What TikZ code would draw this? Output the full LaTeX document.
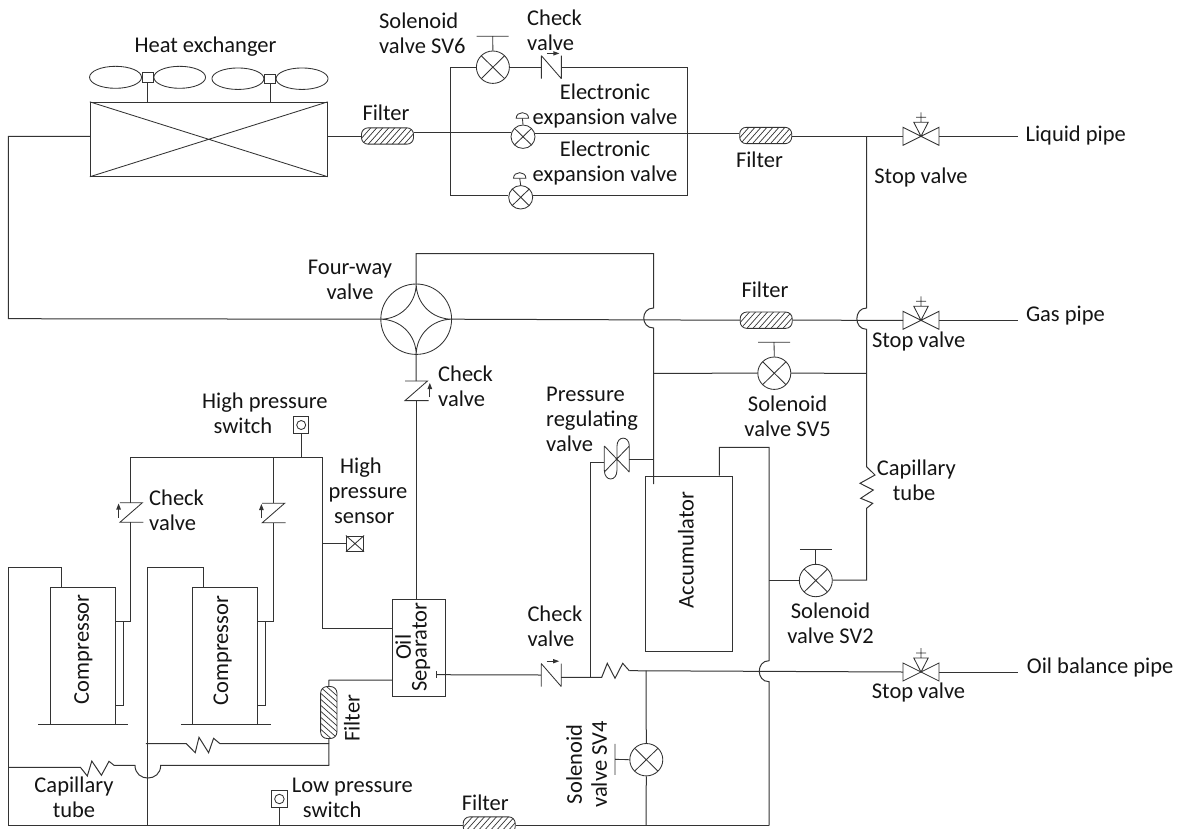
\documentclass[tikz,border=0pt]{standalone}
\usepackage{fontspec}
\setmainfont{Carlito}
\usetikzlibrary{shapes.geometric}
\definecolor{ln}{HTML}{333333}
\definecolor{tx}{HTML}{141414}
\tikzset{
  pipe/.style={draw=ln,line width=1pt,line join=miter},
  thin1/.style={draw=ln,line width=.85pt},
  lbl/.style={font=\fontsize{22.5}{25}\selectfont,text=tx,inner sep=0pt,align=center},
  lbll/.style={lbl,align=left,anchor=west},
  solv/.style={ellipse,thin1,fill=white,inner sep=0pt,minimum width=33pt,minimum height=32.4pt,
    path picture={\draw[thin1] (path picture bounding box.north west)--(path picture bounding box.south east)
      (path picture bounding box.north east)--(path picture bounding box.south west);}},
  eevv/.style={solv,minimum width=24pt,minimum height=23.4pt},
  filt/.style={rectangle,rounded corners=6.5pt,thin1,fill=white,inner sep=0pt,minimum width=52pt,minimum height=16.3pt,
    path picture={\foreach \i in {-36,-30,...,36}{\draw[line width=.7pt,ln] (path picture bounding box.center) ++(\i-8,9) -- ++(16,-18);}}},
  box1/.style={rectangle,thin1,inner sep=0pt},
  stopv/.pic={
    \draw[thin1] (0,0)--(-18,-9)--(-18,9)--cycle (0,0)--(18,-9)--(18,9)--cycle
      (0,0)--(-7.2,-14)--(7.2,-14)--cycle (0,-14)--(0,-24) (-5,-19)--(5,-19);
    \coordinate (-l) at (-18,0); \coordinate (-r) at (18,0);},
  chkh/.pic={
    \draw[thin1] (-10,-11.5)--(-10,11.5) (10,-11.5)--(10,11.5) (-10,-11.5)--(10,11.5);
    \draw[ln,line width=1.3pt] (-4.5,-13.8)--(3,-13.8);
    \fill[ln] (2,-16)--(8,-13.8)--(2,-11.6)--cycle;
    \coordinate (-l) at (-10,0); \coordinate (-r) at (10,0);},
  chkv/.pic={
    \draw[thin1] (-11,-9.8)--(11.5,-9.8)--(-11,9.8)--(12.5,9.8);
    \coordinate (-t) at (0,-9.8); \coordinate (-b) at (0,9.8);},
  uparr/.pic={
    \draw[ln,line width=1.3pt] (0,7)--(0,-2);
    \fill[ln] (-2.4,-1)--(0,-7)--(2.4,-1)--cycle;},
  dome/.pic={\draw[thin1] (-6.2,0) .. controls (-6.2,-7.5) and (6.2,-7.5) .. (6.2,0) -- cycle;},
}
\begin{document}
\begin{tikzpicture}[x=1pt,y=-1pt]
\useasboundingbox (0,0) rectangle (1179,828);
\clip (0,0) rectangle (1179,828);
% heat exchanger
\node[box1,minimum width=236.9pt,minimum height=74pt] (hx) at (208.75,139.3) {};
\draw[thin1] (hx.north west)--(hx.south east) (hx.north east)--(hx.south west);
\node[box1,minimum width=10.6pt,minimum height=9.3pt] (hub1) at (147.7,77.3) {};
\node[box1,minimum width=10.4pt,minimum height=8.7pt] (hub2) at (270,78.7) {};
\node[ellipse,thin1,inner sep=0pt,minimum width=52pt,minimum height=22pt,anchor=east] (b1) at (hub1.west) {};
\node[ellipse,thin1,inner sep=0pt,minimum width=51.7pt,minimum height=22pt,anchor=west] (b2) at (hub1.east) {};
\node[ellipse,thin1,inner sep=0pt,minimum width=52pt,minimum height=21.5pt,anchor=east] (b3) at (hub2.west) {};
\node[ellipse,thin1,inner sep=0pt,minimum width=52pt,minimum height=21.5pt,anchor=west] (b4) at (hub2.east) {};
\draw[thin1] (hub1.south)--(hub1.south|-hx.north) (hub2.south)--(hub2.south|-hx.north);
\node[lbl] (thx) at (205.5,47) {Heat exchanger};
% four-way valve
\node[ellipse,thin1,inner sep=0pt,minimum width=70.8pt,minimum height=70.4pt] (fw) at (416.2,319.2) {};
\draw[thin1] (fw.west) .. controls +(20,0) and +(0,20) .. (fw.north) .. controls +(0,20) and +(-20,0) .. (fw.east)
  .. controls +(-20,0) and +(0,-20) .. (fw.south) .. controls +(0,-20) and +(20,0) .. (fw.west);
% valves
\node[solv] (sv6) at (492.9,67.2) {};
\node[solv] (sv5) at (774.3,373.2) {};
\node[solv] (sv2) at (815.8,580.5) {};
\node[solv] (sv4) at (646.3,759.7) {};
\node[eevv] (eev1) at (523,136.7) {};
\node[eevv] (eev2) at (520.7,197.3) {};
\coordinate (t6) at (492.7,36.3);
\coordinate (t5) at (774,342.3);
\coordinate (t2) at (815.8,549.3);
\coordinate (t4) at (615,759.3);
\draw[thin1] (sv6.north)--(t6) ([xshift=-16pt]t6)--([xshift=16pt]t6);
\draw[thin1] (sv5.north)--(t5) ([xshift=-16pt]t5)--([xshift=16pt]t5);
\draw[thin1] (sv2.north)--(t2) ([xshift=-16pt]t2)--([xshift=16pt]t2);
\draw[thin1] (sv4.west)--(t4) ([yshift=-15.5pt]t4)--([yshift=15.5pt]t4);
\coordinate (d1) at (522.4,118.3);
\coordinate (d2) at (519.7,178.3);
\draw[thin1] (eev1.north)--(d1) (eev2.north)--(d2);
\pic at (d1) {dome};
\pic at (d2) {dome};
% check valves
\pic (c1) at (551.4,67.2) {chkh};
\pic (c6) at (551.2,675) {chkh};
\pic (c2) at (416,390.8) {chkv};
\pic at (429.8,390) {uparr};
\pic (c3) at (130.9,512.5) {chkv};
\pic at (118.6,510.5) {uparr};
\pic (c4) at (273.2,513) {chkv};
\pic at (261.4,511) {uparr};
% filters
\node[filt] (f1) at (387.5,136) {};
\node[filt] (f2) at (765.7,135.5) {};
\node[filt] (f3) at (766.2,320.2) {};
\node[filt] (f4) at (489.2,825) {};
\node[filt,rotate=90] (f5) at (328.8,712.5) {};
% stop valves
\pic (v1) at (921,136.3) {stopv};
\pic (v2) at (921,320.3) {stopv};
\pic (v3) at (921,672) {stopv};
% compressors etc.
\node[box1,minimum width=65.1pt,minimum height=136.3pt] (cp1) at (82.65,655.85) {};
\node[box1,minimum width=65.1pt,minimum height=136.3pt] (cp2) at (225.05,655.85) {};
\coordinate (bs1) at (83.2,724); \coordinate (bs2) at (225.8,724);
\draw[pipe] ([xshift=-45pt]bs1)--([xshift=45pt]bs1) ([xshift=-45pt]bs2)--([xshift=45pt]bs2);
\node[box1,minimum width=52.7pt,minimum height=97pt] (sep) at (418.65,647.5) {};
\node[box1,minimum width=87pt,minimum height=175.7pt] (acc) at (689.2,563.85) {};
% pipes: left and top
\coordinate (p1) at (8.4,136.3); \coordinate (p2) at (8.4,318.7);
\draw[pipe] (hx.west|-p1)--(p1)--(p2)--(fw.west);
\draw[pipe] (hx.east|-f1)--(f1.west);
\coordinate (q1) at (450,67.2); \coordinate (q2) at (450,195.7);
\coordinate (q3) at (687.5,67.2); \coordinate (q4) at (687.5,195.7);
\coordinate (q5) at (450,132);
\draw[pipe] (f1.east|-q5)--(eev1.west|-q5);
\draw[pipe] (sv6.west)--(q1)--(q2)--(eev2.west|-q2);
\draw[pipe] (sv6.east)--(c1-l);
\draw[pipe] (c1-r)--(q3)--(q4)--(eev2.east|-q4);
\coordinate (q6) at (600,133.7);
\draw[pipe] (eev1.east|-q6)--(f2.west|-q6);
\coordinate (r0) at (866.6,136.3);
\draw[pipe] (f2.east|-r0)--(r0)--(v1-l);
\coordinate (e1) at (1018.4,136.3);
\draw[pipe] (v1-r)--(e1);
\coordinate (r1) at (866.6,308); \coordinate (r2) at (866.6,329.3);
\coordinate (r3) at (866.6,466.7); \coordinate (r4) at (866.6,508.3); \coordinate (r5) at (866.6,580);
\coordinate (r6) at (866.6,373.3);
\draw[pipe] (r0)--(r1) .. controls +(-13,0) and +(-13,0) .. (r2)--(r3)
  --(875,475)--(860,483.3)--(873.3,490)--(860.7,498.3)--(872.7,503.3)--(r4)--(r5)--(sv2.east|-r5);
\draw[pipe] (sv5.east)--(r6);
% four-way connections
\coordinate (s1) at (416,253.7); \coordinate (s2) at (653.5,253.7);
\coordinate (s3) at (653.5,308); \coordinate (s4) at (653.5,328);
\coordinate (s5) at (653.5,484); \coordinate (s6) at (653.5,373.3); \coordinate (s7) at (653.5,459);
\draw[pipe] (fw.north)--(s1)--(s2)--(s3) .. controls +(-13,0) and +(-13,0) .. (s4)--(s5);
\draw[pipe] (s6)--(sv5.west);
\draw[pipe] (fw.east)--(f3.west);
\draw[pipe] (f3.east)--(v2-l);
\coordinate (e2) at (1018.4,320.3);
\draw[pipe] (v2-r)--(e2);
\draw[pipe] (fw.south)--(c2-t);
\draw[pipe] (c2-b)--(c2-b|-sep.north);
% pressure regulating valve
\coordinate (pv) at (617,459);
\coordinate (pl) at (604.3,462.3); \coordinate (pr) at (629.3,459);
\draw[thin1] (604.3,446)--(629.3,472) (604.3,472)--(629.3,446)
  (604.3,446)--(604.3,470) .. controls (604.3,482) and (617,482) .. (617,470)--(617,446)
  .. controls (617,435.5) and (629.3,435.5) .. (629.3,446)--(629.3,472);
\coordinate (u1) at (590,462.3); \coordinate (u2) at (590,677.3);
\draw[pipe] (pr)--(s7);
\draw[pipe] (pl)--(u1)--(u2);
% separator out
\coordinate (u0) at (436.3,674.7);
\draw[pipe] (u0)--(c6-l);
\draw[thin1] ([yshift=3.5pt]u0)--([yshift=-3.5pt]u0);
\draw[pipe] (c6-r|-u2)--(u2)--(601.7,677.3)--(607.3,663.3)--(615,678.3)--(622.7,663.3)--(629.3,670.7);
\coordinate (z1) at (629.3,670.7);
\draw[pipe] (z1)--(v3-l);
\coordinate (e3) at (1018.4,672);
\draw[pipe] (v3-r)--(e3);
% sv4, bottom
\coordinate (w1) at (646,670.7); \coordinate (w2) at (646,825.5);
\draw[pipe] (w1)--(sv4.north) (sv4.south)--(w2);
\coordinate (b0) at (8.4,825.5); \coordinate (b9) at (769,825.5);
\draw[pipe] (b0)--(f4.west|-b0) (f4.east|-b0)--(b9);
\coordinate (a1) at (769,447.3); \coordinate (a2) at (719.3,447.3);
\coordinate (a3) at (769,660.7); \coordinate (a4) at (769,681.7); \coordinate (a5) at (769,580);
\draw[pipe] (a2|-acc.north)--(a2)--(a1)--(a3) .. controls +(-13,0) and +(-13,0) .. (a4)--(b9);
\draw[pipe] (a5)--(sv2.west|-a5);
% compressors pipes
\coordinate (k1) at (61.2,567); \coordinate (k2) at (8.4,567);
\coordinate (k3) at (203.6,567); \coordinate (k4) at (147.7,567); \coordinate (k5) at (147.7,825.5);
\draw[pipe] (k1|-cp1.north)--(k1)--(k2)--(b0);
\draw[pipe] (k3|-cp2.north)--(k3)--(k4)--(k5);
\coordinate (h1) at (130.9,621); \coordinate (h2) at (273.2,621); \coordinate (h0) at (322,457.7);
\coordinate (h3) at (130.9,457.7); \coordinate (h4) at (273.2,457.7); \coordinate (h5) at (322,628.7);
\coordinate (i1) at (123.2,621); \coordinate (i2) at (123.2,705.3);
\coordinate (i3) at (265.6,621); \coordinate (i4) at (265.6,705.3);
\draw[pipe] (cp1.east|-h1)--(h1)--(c3-b);
\draw[pipe] (cp2.east|-h2)--(h2)--(c4-b);
\draw[pipe] (c3-t)--(h3)--(h0)--(h5)--(sep.west|-h5);
\draw[pipe] (c4-t)--(h4);
\draw[thin1] (i1)--(i2)--(cp1.east|-i2);
\draw[thin1] (i3)--(i4)--(cp2.east|-i4);
% switches and sensor
\node[box1,fill=white,minimum width=15.3pt,minimum height=16.6pt] (hp) at (301.2,425) {};
\node[circle,thin1,inner sep=0pt,minimum size=9pt] (hpc) at (hp.center) {};
\draw[pipe] (hp.south)--(hp.south|-h0);
\node[box1,fill=white,minimum width=15.3pt,minimum height=16.6pt] (lp) at (279.4,799) {};
\node[circle,thin1,inner sep=0pt,minimum size=9.5pt] (lpc) at (lp.center) {};
\draw[pipe] (lp.south)--(lp.south|-b0);
\node[box1,minimum width=17.3pt,minimum height=15.3pt] (hs) at (355,543.6) {};
\draw[thin1] (hs.north west)--(hs.south east) (hs.north east)--(hs.south west);
\draw[pipe] (h0|-hs)--(hs.west);
% filter f5 connections
\coordinate (g1) at (329,680); \coordinate (g2) at (329,743.7); \coordinate (g3) at (329,765.3);
\draw[pipe] (sep.west|-g1)--(g1)--(f5.east);
\draw[pipe] (f5.west)--(g3);
\coordinate (g4) at (145.8,743.7);
\draw[pipe] (g2)--(220,743.7)--(213.6,738.3)--(208.6,752.7)--(199,737.3)--(195.2,752.7)--(186.4,743.7)--(g4);
\coordinate (g5) at (160.7,765.3); \coordinate (g6) at (135,765.3); \coordinate (g7) at (8.4,767.3);
\draw[pipe] (g3)--(g5) .. controls +(0,17) and +(0,17) .. (g6)--(114,765.3)--(109,761.3)--(101.4,775.3)--(91.8,761)--(87.3,776)--(80.4,767.3)--(g7);
% labels
\node[lbll] (l1) at (378.9,33) {Solenoid\\valve SV6};
\node[lbll] (l2) at (527,30.5) {Check\\valve};
\node[lbl] (l3) at (605,105.8) {Electronic\\expansion valve};
\node[lbl] (l4) at (605,162.5) {Electronic\\expansion valve};
\node[lbl] (l5) at (386,113) {Filter};
\node[lbl] (l6) at (759.5,160) {Filter};
\node[lbl] (l7) at (765,290) {Filter};
\node[lbll] (l8) at (1025.4,135) {Liquid pipe};
\node[lbll] (l9) at (1025.8,316) {Gas pipe};
\node[lbll] (l10) at (1026.7,667) {Oil balance pipe};
\node[lbl] (l11) at (921,177.5) {Stop valve};
\node[lbl] (l12) at (918.7,341.5) {Stop valve};
\node[lbl] (l13) at (918.5,692.5) {Stop valve};
\node[lbl] (l14) at (350,279.8) {Four-way\\valve};
\node[lbll] (l15) at (438,386.6) {Check\\valve};
\node[lbll] (l16) at (546,419) {Pressure\\regulating\\valve};
\node[lbl] (l17) at (787.6,416.2) {Solenoid\\valve SV5};
\node[lbl] (l18) at (830.5,623.6) {Solenoid\\valve SV2};
\node[lbll] (l19) at (876.7,480.6) {Capillary\\\hspace*{16pt}tube};
\node[lbl] (l20) at (74,797) {Capillary\\tube};
\node[lbll] (l21) at (202,412.8) {High pressure\\\hspace*{11.5pt}switch};
\node[lbll] (l22) at (328.4,490.3) {\hspace*{11.5pt}High\\pressure\\\hspace*{5.5pt}sensor};
\node[lbll] (l23) at (149,510.6) {Check\\valve};
\node[lbll] (l24) at (527.3,625.8) {Check\\valve};
\node[lbll] (l25) at (291.6,797.6) {Low pressure\\\hspace*{11pt}switch};
\node[lbl] (l26) at (485.3,803) {Filter};
\node[lbl,rotate=90] (l27) at (83.4,649.2) {Compressor};
\node[lbl,rotate=90] (l28) at (222.7,650.7) {Compressor};
\node[lbl,rotate=90] (l29) at (686,550) {Accumulator};
\node[lbl,rotate=90,font=\fontsize{22.5}{14.5}\selectfont] (l30) at (412.8,647.3) {Oil\\Separator};
\node[lbl,rotate=90] (l31) at (352,718.3) {Filter};
\node[lbl,rotate=90] (l32) at (586.6,764.5) {Solenoid\\valve SV4};
\end{tikzpicture}
\end{document}
